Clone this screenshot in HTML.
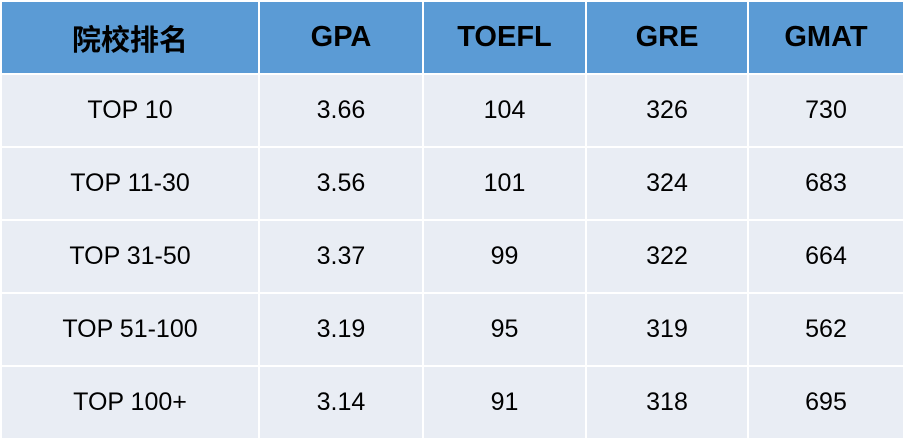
<!DOCTYPE html>
<html><head><meta charset="utf-8"><style>
body{margin:0;width:903px;height:443px;background:#fff;overflow:hidden}
table{position:absolute;left:0;top:0;width:903px;border-collapse:collapse;font-family:"Liberation Sans","Noto Sans CJK SC",sans-serif;table-layout:fixed}
td,th{border:2px solid #fff;text-align:center;padding:0}
th{background:#5b9bd5;color:#000;font-size:29px;font-weight:bold;height:71px}
td{background:#e9edf4;font-size:25px;height:71px;color:#000}
</style></head><body>
<table>
<colgroup><col style="width:258px"><col style="width:164px"><col style="width:163px"><col style="width:162px"><col style="width:156px"></colgroup>
<tr><th>院校排名</th><th>GPA</th><th>TOEFL</th><th>GRE</th><th>GMAT</th></tr>
<tr><td>TOP 10</td><td>3.66</td><td>104</td><td>326</td><td>730</td></tr>
<tr><td>TOP 11-30</td><td>3.56</td><td>101</td><td>324</td><td>683</td></tr>
<tr><td>TOP 31-50</td><td>3.37</td><td>99</td><td>322</td><td>664</td></tr>
<tr><td>TOP 51-100</td><td>3.19</td><td>95</td><td>319</td><td>562</td></tr>
<tr><td>TOP 100+</td><td>3.14</td><td>91</td><td>318</td><td>695</td></tr>
</table>
</body></html>
